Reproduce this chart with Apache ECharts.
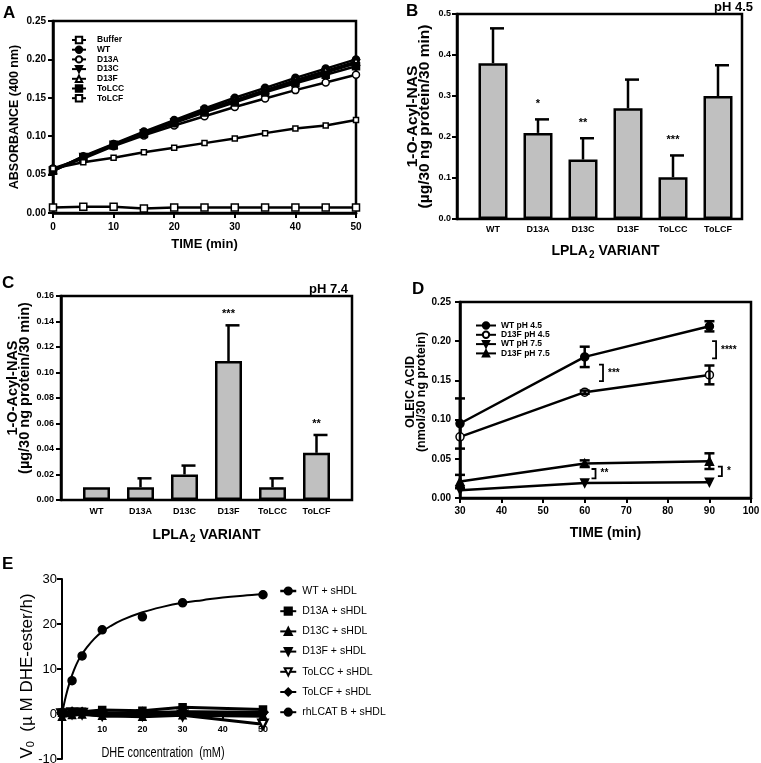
<!DOCTYPE html>
<html><head><meta charset="utf-8">
<script src="https://cdn.jsdelivr.net/npm/echarts@6/dist/echarts.min.js"></script>
<style>html,body{margin:0;padding:0;background:#fff}#c{width:761px;height:763px}</style>
</head><body><div id="c"></div>
<script>
// ---------- Panel A data ----------
const timeA = [0,5,10,15,20,25,30,35,40,45,50];
const absBuffer = [0.007,0.008,0.008,0.006,0.007,0.007,0.007,0.007,0.007,0.007,0.007];
const absWT    = [0.055,0.074,0.090,0.106,0.121,0.136,0.150,0.163,0.176,0.188,0.200];
const absD13A  = [0.058,0.071,0.087,0.101,0.114,0.126,0.138,0.149,0.160,0.170,0.180];
const absD13C  = [0.055,0.073,0.089,0.104,0.118,0.133,0.146,0.159,0.171,0.183,0.195];
const absD13F  = [0.056,0.073,0.089,0.105,0.119,0.134,0.147,0.160,0.173,0.185,0.197];
const absToLCC = [0.055,0.072,0.088,0.103,0.117,0.131,0.144,0.157,0.169,0.180,0.191];
const absToLCF = [0.058,0.066,0.072,0.079,0.085,0.091,0.097,0.104,0.110,0.114,0.121];

// ---------- Panels B / C data ----------
const variants = ['WT','D13A','D13C','D13F','ToLCC','ToLCF'];
const meanB   = [0.380,0.210,0.145,0.270,0.102,0.300];
const errTopB = [0.465,0.243,0.197,0.340,0.155,0.375];
const sigB    = ['','*','**','','***',''];
const meanC   = [0.010,0.010,0.020,0.109,0.010,0.037];
const errTopC = [null,0.017,0.027,0.137,0.017,0.051];
const sigC    = ['','','','***','','**'];

// ---------- Panel D data ----------
const timeD = [30,60,90];
const wt45 = [0.095,0.180,0.219];   const wt45Err = [0.032,0.013,0.0065];
const d13f45 = [0.078,0.135,0.157]; const d13f45Err = [0,0.002,0.012];
const wt75 = [0.010,0.019,0.020];   const wt75Err = [0,0,0];
const d13f75 = [0.021,0.044,0.047]; const d13f75Err = [0.0085,0.004,0.010];
const bracketX  = [64.4, 91.6, 62.6, 93.0];
const bracketLo = [0.149, 0.178, 0.025, 0.028];
const bracketHi = [0.170, 0.200, 0.037, 0.040];
const bracketTxt = ['***','****','**','*'];

// ---------- Panel E data ----------
const concE = [0,2.5,5,10,20,30,50];
const eWT    = [0.3,7.4,12.9,18.7,21.6,24.7,26.5];
const eD13A  = [0.3,0.4,0.5,0.9,0.7,1.5,1.0];
const eD13C  = [-0.6,-0.2,-0.1,-0.4,-0.6,-0.3,-0.3];
const eD13F  = [0.2,0.1,0.1,-0.5,-0.2,-0.3,-0.5];
const eToLCC = [0.0,0.2,0.1,-0.2,-0.2,-0.3,-2.3];
const eToLCF = [0.3,0.4,0.3,0.2,0.3,0.5,0.4];
const eRh    = [0.1,0.2,0.2,0.1,0.2,0.4,0.3];
const fitX = [0,1,2,3,4,5,6,8,10,12,15,20,25,30,35,40,45,50];
const fitY = [0,4.1,7.3,9.8,11.8,13.3,14.6,16.7,18.3,19.5,20.9,22.6,23.8,24.7,25.3,25.9,26.3,26.6];

// ---------- styling ----------
const F = 'Liberation Sans, Arial, Helvetica, sans-serif';
const K = '#000';
const lbl = (size, extra) => Object.assign({color:K, fontFamily:F, fontWeight:'bold', fontSize:size}, extra||{});
const axLine = {show:true, onZero:false, lineStyle:{color:K, width:2.5}};
const tickOut = {show:true, inside:false, length:5, lineStyle:{color:K, width:2}};

function pairs(x, y){ return x.map((t,i)=>[t,y[i]]); }
function ls(name, x, y, sym, filled, xi, yi, extra){
  return Object.assign({
    type:'line', name, xAxisIndex:xi, yAxisIndex:yi, data:pairs(x,y),
    symbol:sym, symbolSize:7, showAllSymbol:true,
    lineStyle:{color:K, width:2.5},
    itemStyle:{color: filled?K:'#fff', borderColor:K, borderWidth:1.5},
    emphasis:{disabled:true}, z:3
  }, extra||{});
}
function barErr(tops, sigs, starGap){
  return function(params, api){
    const i = params.dataIndex;
    const base = api.coord([i, api.value(1)]);
    const ch = [];
    let ty = base[1];
    const top = tops[i];
    if (top != null){
      const p = api.coord([i, top]);
      ch.push({type:'line', shape:{x1:p[0],y1:base[1],x2:p[0],y2:p[1]}, style:{stroke:K,lineWidth:2.5}});
      ch.push({type:'line', shape:{x1:p[0]-3,y1:p[1],x2:p[0]+11,y2:p[1]}, style:{stroke:K,lineWidth:2.5}});
      ty = p[1];
    }
    if (sigs[i]) ch.push({type:'text', x:base[0], y:ty-starGap,
      style:{text:sigs[i], align:'center', verticalAlign:'middle', font:'bold 11px '+F, fill:K}});
    return {type:'group', children:ch};
  };
}
function symErr(errs){
  return function(params, api){
    const e = errs[params.dataIndex];
    if (!e) return null;
    const x = api.value(0), y = api.value(1);
    const a = api.coord([x, y+e]), b = api.coord([x, y-e]);
    const w = 5;
    return {type:'group', children:[
      {type:'line', shape:{x1:a[0],y1:a[1],x2:b[0],y2:b[1]}, style:{stroke:K,lineWidth:2.5}},
      {type:'line', shape:{x1:a[0]-w,y1:a[1],x2:a[0]+w,y2:a[1]}, style:{stroke:K,lineWidth:2.5}},
      {type:'line', shape:{x1:b[0]-w,y1:b[1],x2:b[0]+w,y2:b[1]}, style:{stroke:K,lineWidth:2.5}}
    ]};
  };
}
function bracketRender(params, api){
  const i = params.dataIndex;
  const lo = api.coord([api.value(0), api.value(1)]);
  const hi = api.coord([api.value(0), api.value(2)]);
  return {type:'group', children:[
    {type:'polyline', shape:{points:[[lo[0]-4,lo[1]],[lo[0],lo[1]],[hi[0],hi[1]],[hi[0]-4,hi[1]]]}, style:{stroke:K, lineWidth:1.8, fill:null}},
    {type:'text', x:lo[0]+5, y:(lo[1]+hi[1])/2, style:{text:bracketTxt[i], align:'left', verticalAlign:'middle', font:'bold 10px '+F, fill:K}}
  ]};
}

const hidden = (gi) => ({gridIndex:gi, type:'value', show:false, min:0, max:1});
const gb = {outerBoundsMode:'none', containLabel:false};

const option = {
  animation:false,
  backgroundColor:'#fff',
  grid:[
    Object.assign({left:53, top:21, width:303, height:192, show:true, borderColor:K, borderWidth:2.5}, gb),   // A
    Object.assign({left:457, top:14, width:285, height:205, show:true, borderColor:K, borderWidth:2.5}, gb),  // B frame
    Object.assign({left:470.5, top:14, width:270, height:205}, gb),                                            // B data
    Object.assign({left:61, top:296, width:291, height:204, show:true, borderColor:K, borderWidth:2.5}, gb),  // C frame
    Object.assign({left:74.5, top:296, width:264, height:204}, gb),                                            // C data
    Object.assign({left:460, top:302, width:291, height:196, show:true, borderColor:K, borderWidth:2.5}, gb), // D
    Object.assign({left:62, top:579, width:201, height:180}, gb)                                               // E
  ],
  xAxis:[
    {gridIndex:0, type:'value', min:0, max:50, interval:10, axisLine:axLine, axisTick:tickOut,
     splitLine:{show:false}, axisLabel:lbl(10,{margin:9}),
     name:'TIME (min)', nameLocation:'middle', nameGap:25, nameTextStyle:lbl(13)},
    hidden(1),
    {gridIndex:2, type:'category', data:variants, axisLine:{show:false}, axisTick:{show:false},
     axisLabel:lbl(9,{margin:6}),
     name:'{a|LPLA}{s|2}{a| VARIANT}', nameLocation:'middle', nameGap:23,
     nameTextStyle:{rich:{a:lbl(14), s:lbl(10,{padding:[8,0,0,1]})}}},
    hidden(3),
    {gridIndex:4, type:'category', data:variants, axisLine:{show:false}, axisTick:{show:false},
     axisLabel:lbl(9,{margin:7}),
     name:'{a|LPLA}{s|2}{a| VARIANT}', nameLocation:'middle', nameGap:26,
     nameTextStyle:{rich:{a:lbl(14), s:lbl(10,{padding:[8,0,0,1]})}}},
    {gridIndex:5, type:'value', min:30, max:100, interval:10, axisLine:axLine, axisTick:tickOut,
     splitLine:{show:false}, axisLabel:lbl(10,{margin:8}),
     name:'TIME (min)', nameLocation:'middle', nameGap:28, nameTextStyle:lbl(14)},
    // E: x axis sits at y = 0 (45 px above the bottom of the -10..30 grid)
    {gridIndex:6, type:'value', min:0, max:50, interval:10, position:'bottom', offset:-45,
     axisLine:{show:true, onZero:false, lineStyle:{color:K,width:2}},
     axisTick:{show:true, inside:false, length:5, lineStyle:{color:K,width:2}}, splitLine:{show:false},
     axisLabel:{showMinLabel:false, color:K, fontFamily:F, fontWeight:'bold', fontSize:9, margin:11}}
  ],
  yAxis:[
    {gridIndex:0, type:'value', min:0, max:0.25, interval:0.05, axisLine:axLine, axisTick:tickOut,
     splitLine:{show:false}, axisLabel:lbl(10,{margin:7, formatter:v=>v.toFixed(2)}),
     name:'ABSORBANCE (400 nm)', nameLocation:'middle', nameGap:32, nameTextStyle:lbl(12.5)},
    hidden(1),
    {gridIndex:2, type:'value', min:0, max:0.5, interval:0.1, offset:13.5, axisLine:axLine, axisTick:tickOut,
     splitLine:{show:false}, axisLabel:lbl(9,{margin:6, formatter:v=>v.toFixed(1)}),
     name:'1-O-Acyl-NAS\n(µg/30 ng protein/30 min)', nameLocation:'middle', nameGap:26,
     nameTextStyle:lbl(15.5,{lineHeight:12})},
    hidden(3),
    {gridIndex:4, type:'value', min:0, max:0.16, interval:0.02, offset:13.5, axisLine:axLine, axisTick:tickOut,
     splitLine:{show:false}, axisLabel:lbl(9,{margin:7, formatter:v=>v.toFixed(2)}),
     name:'1-O-Acyl-NAS\n(µg/30 ng protein/30 min)', nameLocation:'middle', nameGap:29,
     nameTextStyle:lbl(14.5,{lineHeight:12, padding:[0,0,0,20]})},
    {gridIndex:5, type:'value', min:0, max:0.25, interval:0.05, axisLine:axLine, axisTick:tickOut,
     splitLine:{show:false}, axisLabel:lbl(10,{margin:9, formatter:v=>v.toFixed(2)}),
     name:'OLEIC ACID\n(nmol/30 ng protein)', nameLocation:'middle', nameGap:32,
     nameTextStyle:lbl(12.5,{lineHeight:11, padding:[0,0,0,16]})},
    {gridIndex:6, type:'value', min:-10, max:30, interval:10, axisLine:{show:true, onZero:false, lineStyle:{color:K,width:2}},
     axisTick:{show:true, inside:false, length:5, lineStyle:{color:K,width:2}}, splitLine:{show:false},
     axisLabel:{color:K, fontFamily:F, fontSize:13, margin:5}}
  ],
  legend:[
    {left:66, top:30.5, orient:'vertical', itemWidth:14, itemHeight:8, itemGap:0.7, selectedMode:false,
     data:['Buffer','WT','D13A','D13C','D13F','ToLCC','ToLCF'],
     textStyle:lbl(8.5,{lineHeight:8, padding:[0,0,0,6]})},
    {left:470, top:316, orient:'vertical', itemWidth:20, itemHeight:8, itemGap:0.3, selectedMode:false,
     data:['WT pH 4.5','D13F pH 4.5','WT pH 7.5','D13F pH 7.5'],
     textStyle:lbl(8.5,{lineHeight:8})},
    {left:274, top:579, orient:'vertical', itemWidth:16, itemHeight:9, itemGap:6.2, selectedMode:false,
     data:[{name:'WT + sHDL', lineStyle:{width:2.5, color:K}},'D13A + sHDL','D13C + sHDL','D13F + sHDL','ToLCC + sHDL','ToLCF + sHDL','rhLCAT B + sHDL'],
     textStyle:{color:K, fontFamily:F, fontSize:10.5, lineHeight:14, padding:[0,0,0,1]}}
  ],
  graphic:[
    {type:'text', left:3, top:5, style:{text:'A', font:'bold 17px '+F, fill:K}},
    {type:'text', left:406, top:3, style:{text:'B', font:'bold 17px '+F, fill:K}},
    {type:'text', left:2, top:275, style:{text:'C', font:'bold 17px '+F, fill:K}},
    {type:'text', left:412, top:281, style:{text:'D', font:'bold 17px '+F, fill:K}},
    {type:'text', left:2, top:556, style:{text:'E', font:'bold 17px '+F, fill:K}},
    {type:'text', left:714, top:1, style:{text:'pH 4.5', font:'bold 13px '+F, fill:K}},
    {type:'text', left:309, top:283, style:{text:'pH 7.4', font:'bold 13px '+F, fill:K}},
    // Panel E axis titles (narrow face emulated by horizontal scaling)
    {type:'text', x:163, y:753, scaleX:0.78,
     style:{text:'DHE concentration  (mM)', font:'14px '+F, fill:K, align:'center', verticalAlign:'middle'}},
    {type:'text', x:27, y:676, rotation:Math.PI/2,
     style:{text:'{a|V}{s|0}{a|  (µ M DHE-ester/h)}', align:'center', verticalAlign:'middle',
            rich:{a:{font:'17px '+F, fill:K}, s:{font:'11px '+F, fill:K, padding:[8,0,0,0]}}}}
  ],
  series:[
    // A
    ls('Buffer', timeA, absBuffer, 'rect', false, 0, 0),
    ls('WT', timeA, absWT, 'circle', true, 0, 0),
    ls('D13A', timeA, absD13A, 'circle', false, 0, 0),
    ls('D13C', timeA, absD13C, 'triangle', true, 0, 0, {symbolRotate:180}),
    ls('D13F', timeA, absD13F, 'triangle', false, 0, 0),
    ls('ToLCC', timeA, absToLCC, 'rect', true, 0, 0),
    ls('ToLCF', timeA, absToLCF, 'rect', false, 0, 0, {symbolSize:5}),
    // B
    {type:'bar', name:'B mean', xAxisIndex:2, yAxisIndex:2, data:meanB, barWidth:29,
     itemStyle:{color:'#c0c0c0', borderColor:K, borderWidth:2.5}, emphasis:{disabled:true}},
    {type:'custom', name:'B err', xAxisIndex:2, yAxisIndex:2, data:meanB.map((v,i)=>[i,v]),
     renderItem:barErr(errTopB, sigB, 15), z:4},
    // C
    {type:'bar', name:'C mean', xAxisIndex:4, yAxisIndex:4, data:meanC, barWidth:27,
     itemStyle:{color:'#c0c0c0', borderColor:K, borderWidth:2.5}, emphasis:{disabled:true}},
    {type:'custom', name:'C err', xAxisIndex:4, yAxisIndex:4, data:meanC.map((v,i)=>[i,v]),
     renderItem:barErr(errTopC, sigC, 11), z:4},
    // D
    ls('WT pH 4.5', timeD, wt45, 'circle', true, 5, 5, {symbolSize:8}),
    ls('D13F pH 4.5', timeD, d13f45, 'circle', false, 5, 5, {symbolSize:8}),
    ls('WT pH 7.5', timeD, wt75, 'triangle', true, 5, 5, {symbolSize:8, symbolRotate:180}),
    ls('D13F pH 7.5', timeD, d13f75, 'triangle', true, 5, 5, {symbolSize:8}),
    {type:'custom', xAxisIndex:5, yAxisIndex:5, data:pairs(timeD, wt45), renderItem:symErr(wt45Err), z:4},
    {type:'custom', xAxisIndex:5, yAxisIndex:5, data:pairs(timeD, d13f45), renderItem:symErr(d13f45Err), z:4},
    {type:'custom', xAxisIndex:5, yAxisIndex:5, data:pairs(timeD, wt75), renderItem:symErr(wt75Err), z:4},
    {type:'custom', xAxisIndex:5, yAxisIndex:5, data:pairs(timeD, d13f75), renderItem:symErr(d13f75Err), z:4},
    {type:'custom', xAxisIndex:5, yAxisIndex:5, data:bracketX.map((x,i)=>[x, bracketLo[i], bracketHi[i]]),
     renderItem:bracketRender, z:4},
    // E
    {type:'line', name:'WT fit', xAxisIndex:6, yAxisIndex:6, data:pairs(fitX, fitY), smooth:0.4,
     showSymbol:false, lineStyle:{color:K, width:2}, emphasis:{disabled:true}, z:2},
    ls('D13A + sHDL', concE, eD13A, 'rect', true, 6, 6, {lineStyle:{color:K,width:3}}),
    ls('D13C + sHDL', concE, eD13C, 'triangle', true, 6, 6, {lineStyle:{color:K,width:3}}),
    ls('D13F + sHDL', concE, eD13F, 'triangle', true, 6, 6, {symbolRotate:180, symbolSize:6, lineStyle:{color:K,width:3}}),
    ls('ToLCC + sHDL', concE, eToLCC, 'triangle', false, 6, 6, {symbolRotate:180, symbolSize:9, itemStyle:{color:'#fff', borderColor:K, borderWidth:2.5}, lineStyle:{color:K,width:3}}),
    ls('ToLCF + sHDL', concE, eToLCF, 'diamond', true, 6, 6, {symbolSize:10, lineStyle:{color:K,width:3}}),
    ls('rhLCAT B + sHDL', concE, eRh, 'circle', true, 6, 6, {symbolSize:7, lineStyle:{color:K,width:3}}),
    ls('WT + sHDL', concE, eWT, 'circle', true, 6, 6, {symbolSize:8, lineStyle:{color:K, width:0}, z:5})
  ]
};
const chart = echarts.init(document.getElementById('c'), null, {renderer:'canvas'});
chart.setOption(option);
</script>
</body></html>
